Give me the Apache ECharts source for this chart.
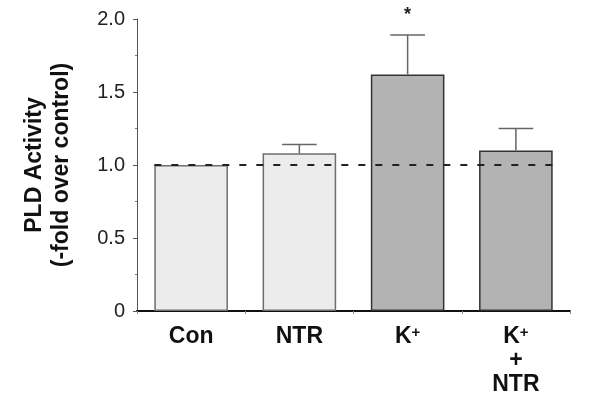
<!DOCTYPE html>
<html>
<head>
<meta charset="utf-8">
<script src="https://cdn.jsdelivr.net/npm/echarts@6/dist/echarts.min.js"></script>
<style>html,body{margin:0;padding:0;background:#fff}#chart{width:600px;height:403px}</style>
</head>
<body>
<div id="chart"></div>
<script>
// ---- data ----
const categories = ['Con', 'NTR', 'K+', 'K+\n+\nNTR'];
const meanValues = [1.0, 1.08, 1.62, 1.10];
const errorValues = [0, 0.06, 0.27, 0.15];
const significance = ['', '', '*', ''];
const referenceLevel = 1.0;
const yAxisTitle = 'PLD Activity\n(-fold over control)';

// ---- styles ----
const FONT = '"Liberation Sans", Arial, Helvetica, sans-serif';
const barStyles = [
  { color: '#ececec', borderColor: '#6e6e6e' },
  { color: '#ececec', borderColor: '#6e6e6e' },
  { color: '#b3b3b3', borderColor: '#333333' },
  { color: '#b3b3b3', borderColor: '#333333' }
];
const BAR_FRAC = 0.68;

const chart = echarts.init(document.getElementById('chart'), null, { renderer: 'canvas' });

const option = {
  animation: false,
  backgroundColor: '#fff',
  grid: { left: 137, right: 30, top: 19, bottom: 92, containLabel: false, outerBoundsMode: 'none' },
  xAxis: {
    type: 'category',
    data: categories,
    boundaryGap: true,
    axisLine: { lineStyle: { color: '#111', width: 2 } },
    axisTick: { show: true, length: 3, lineStyle: { color: '#888' } },
    axisLabel: {
      margin: 14,
      interval: 0,
      formatter: function (v) {
        return v.split('\n').map(function (l) {
          return l === 'K+' ? '{b|K}{s|+}' : '{b|' + l + '}';
        }).join('\n');
      },
      rich: {
        b: { fontFamily: FONT, fontSize: 23, fontWeight: 'bold', color: '#111', lineHeight: 24 },
        s: { fontFamily: FONT, fontSize: 15, fontWeight: 'bold', color: '#111', lineHeight: 24, padding: [0, 0, 9, 0] }
      }
    }
  },
  yAxis: {
    type: 'value',
    min: 0, max: 2, interval: 0.5,
    name: yAxisTitle,
    nameLocation: 'middle',
    nameRotate: 90,
    nameGap: 62,
    nameTextStyle: { fontFamily: FONT, fontSize: 23, fontWeight: 'bold', color: '#111', lineHeight: 27 },
    axisLine: { show: true, lineStyle: { color: '#555', width: 1 } },
    axisTick: { show: true, length: 4, lineStyle: { color: '#555' } },
    minorTick: { show: true, splitNumber: 2, length: 2, lineStyle: { color: '#777' } },
    splitLine: { show: false },
    axisLabel: {
      margin: 12,
      fontFamily: FONT, fontSize: 20, color: '#222',
      formatter: function (v) { return v === 0 ? '0' : v.toFixed(1); }
    }
  },
  series: [
    {
      type: 'bar',
      barWidth: (BAR_FRAC * 100) + '%',
      data: meanValues.map(function (v, i) {
        return { value: v, itemStyle: { color: barStyles[i].color, borderColor: barStyles[i].borderColor, borderWidth: 1.5 } };
      }),
      z: 2
    },
    {
      type: 'custom',
      z: 3,
      data: meanValues.map(function (v, i) { return [i, v, v + errorValues[i], significance[i]]; }),
      renderItem: function (params, api) {
        const i = api.value(0);
        const base = api.coord([i, api.value(1)]);
        const top = api.coord([i, api.value(2)]);
        const half = api.size([1, 0])[0] * 0.16;
        const children = [];
        if (api.value(2) > api.value(1)) {
          children.push({ type: 'line', shape: { x1: base[0], y1: base[1], x2: top[0], y2: top[1] }, style: { stroke: '#666', lineWidth: 1.5 } });
          children.push({ type: 'line', shape: { x1: top[0] - half, y1: top[1], x2: top[0] + half, y2: top[1] }, style: { stroke: '#666', lineWidth: 1.5 } });
        }
        const sig = significance[params.dataIndex];
        if (sig) {
          children.push({ type: 'text', style: { text: sig, x: top[0], y: top[1] - 20, align: 'center', verticalAlign: 'middle', font: 'bold 18px ' + FONT, fill: '#222' } });
        }
        return { type: 'group', children: children };
      }
    },
    {
      type: 'custom',
      z: 4,
      data: [[0, referenceLevel]],
      renderItem: function (params, api) {
        const bw = api.size([1, 0])[0] * BAR_FRAC;
        const p0 = api.coord([0, api.value(1)]);
        const p1 = api.coord([categories.length - 1, api.value(1)]);
        return { type: 'line', shape: { x1: p0[0] - bw / 2, y1: p0[1], x2: p1[0] + bw / 2, y2: p1[1] }, style: { stroke: '#222', lineWidth: 2, lineDash: [7, 10] } };
      }
    }
  ]
};
chart.setOption(option);
</script>
</body>
</html>
